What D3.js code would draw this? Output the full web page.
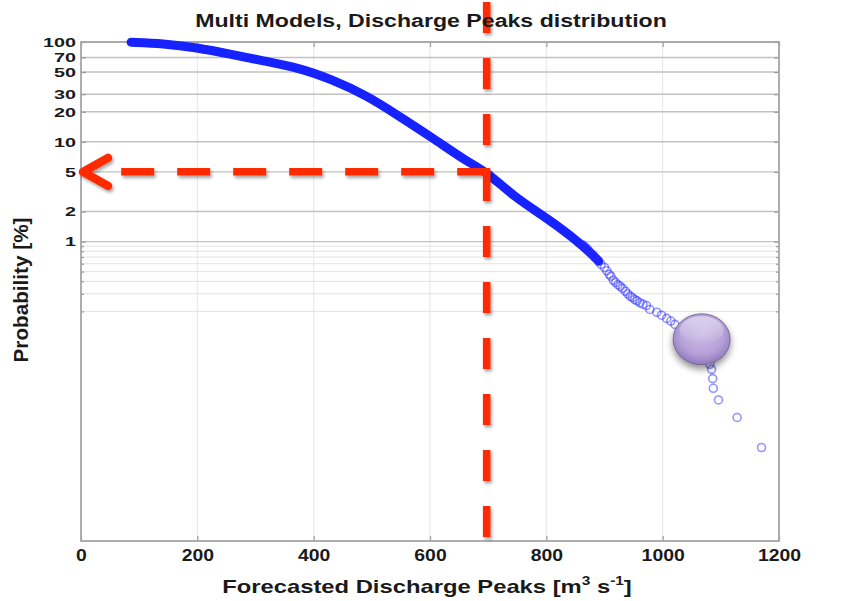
<!DOCTYPE html>
<html>
<head>
<meta charset="utf-8">
<script src="https://cdn.jsdelivr.net/npm/d3@7"></script>
<style>
  html, body { margin: 0; padding: 0; background: #fff; }
  svg { display: block; }
  text { font-family: "Liberation Sans", Arial, Helvetica, sans-serif; font-weight: bold; fill: #1a1a1a; }
</style>
</head>
<body>
<svg id="chart" width="848" height="601"></svg>
<script>
// ---------------- data ----------------
const xTickValues = [0, 200, 400, 600, 800, 1000, 1200];
const yMajorTicks = [1, 2, 5, 10, 20, 30, 50, 70, 100];
const yMinorTicks = [0.2, 0.3, 0.4, 0.5, 0.6, 0.7, 0.8, 0.9];

// dense part of the sorted ensemble (appears as a solid thick band)
const denseQ = [86, 141, 199, 256, 313, 373, 430, 492, 548, 605, 663, 700, 743, 801, 858, 890];
const denseP = [99.5, 96.6, 87.9, 75.9, 64.6, 55.5, 42.5, 29, 17.9, 10.9, 6.35, 4.9, 2.84, 1.73, 0.97, 0.64];

// sparse tail (individual open circles)
const tailQ = [862, 866, 870, 874, 880, 884, 890, 894, 900, 904, 908, 911, 915, 919, 923, 927, 931, 936, 940, 944,
               948, 952, 956, 961, 966, 972, 978, 990, 998, 1007, 1014, 1021,
               1038, 1050, 1062, 1072, 1078, 1081, 1084, 1086, 1087, 1096, 1128, 1170];
const tailP = [0.93, 0.89, 0.85, 0.80, 0.74, 0.69, 0.63, 0.59, 0.55, 0.51, 0.47, 0.45, 0.41, 0.39, 0.37, 0.357, 0.34, 0.318, 0.30, 0.284,
               0.275, 0.263, 0.255, 0.244, 0.236, 0.229, 0.209, 0.196, 0.183, 0.170, 0.160, 0.148,
               0.132, 0.118, 0.102, 0.085, 0.068, 0.059, 0.0525, 0.0424, 0.0339, 0.0259, 0.0173, 0.00865];

// annotation
const markQ = 700;   // vertical red dashed line
const markP = 5;     // horizontal red dashed line
const ballQ = 1067, ballP = 0.105;

const titleText = "Multi Models, Discharge Peaks distribution";
const yLabelText = "Probability [%]";

// ---------------- layout ----------------
const plot = { left: 81, right: 779, top: 42, bottom: 541 };

const svg = d3.select("#chart");
const x = d3.scaleLinear().domain([0, 1200]).range([plot.left, plot.right]);
const y = d3.scaleLog().domain([0.001, 100]).range([plot.bottom, plot.top]);

const defs = svg.append("defs");
const fRed = defs.append("filter").attr("id", "shRed").attr("x", "-20%").attr("y", "-20%").attr("width", "140%").attr("height", "140%");
fRed.append("feDropShadow").attr("dx", 1.5).attr("dy", 2.5).attr("stdDeviation", 1.6)
  .attr("flood-color", "#000").attr("flood-opacity", 0.35);
const fBall = defs.append("filter").attr("id", "shBall").attr("x", "-40%").attr("y", "-40%").attr("width", "180%").attr("height", "190%");
fBall.append("feDropShadow").attr("dx", 0).attr("dy", 4).attr("stdDeviation", 3.5)
  .attr("flood-color", "#000").attr("flood-opacity", 0.45);
const rg = defs.append("radialGradient").attr("id", "ballGrad")
  .attr("cx", "50%").attr("cy", "40%").attr("r", "60%");
rg.append("stop").attr("offset", "0%").attr("stop-color", "#c9b9e6");
rg.append("stop").attr("offset", "65%").attr("stop-color", "#b5a1d8");
rg.append("stop").attr("offset", "100%").attr("stop-color", "#9179bb");
const lg = defs.append("linearGradient").attr("id", "ballHi").attr("x1", 0).attr("y1", 0).attr("x2", 0).attr("y2", 1);
lg.append("stop").attr("offset", "0%").attr("stop-color", "#fff").attr("stop-opacity", 0.5);
lg.append("stop").attr("offset", "100%").attr("stop-color", "#fff").attr("stop-opacity", 0);

// ---------------- grid ----------------
const grid = svg.append("g");
grid.selectAll(".vg").data(xTickValues.slice(1, -1)).join("line")
  .attr("x1", d => x(d)).attr("x2", d => x(d))
  .attr("y1", plot.top).attr("y2", plot.bottom)
  .attr("stroke", "#e6e6e6").attr("stroke-width", 1);
grid.selectAll(".mg").data(yMinorTicks).join("line")
  .attr("x1", plot.left).attr("x2", plot.right)
  .attr("y1", d => y(d)).attr("y2", d => y(d))
  .attr("stroke", "#e2e2e2").attr("stroke-width", 1);
grid.selectAll(".hg").data(yMajorTicks).join("line")
  .attr("x1", plot.left).attr("x2", plot.right)
  .attr("y1", d => y(d)).attr("y2", d => y(d))
  .attr("stroke", "#c2c2c2").attr("stroke-width", 1.4);

// ---------------- axes ----------------
function styleAxis(g) {
  g.select(".domain").remove();
  g.selectAll(".tick line").attr("stroke", "#9a9a9a").attr("stroke-width", 1.2);
}
const gx = svg.append("g").attr("transform", `translate(0,${plot.bottom})`)
  .call(d3.axisBottom(x).tickValues(xTickValues).tickSizeInner(-5).tickSizeOuter(0).tickPadding(8).tickFormat(d3.format("d")));
styleAxis(gx);
gx.selectAll("text").attr("font-size", 17);

svg.append("g").attr("transform", `translate(0,${plot.top})`)
  .call(d3.axisTop(x).tickValues(xTickValues).tickSizeInner(-5).tickSizeOuter(0).tickFormat(""))
  .call(styleAxis);

const gy = svg.append("g").attr("transform", `translate(${plot.left},0)`)
  .call(d3.axisLeft(y).tickValues(yMajorTicks).tickSizeInner(-5).tickSizeOuter(0).tickPadding(5).tickFormat(d3.format("d")));
styleAxis(gy);
gy.selectAll("text").attr("font-size", 13.5);

svg.append("g").attr("transform", `translate(${plot.left},0)`)
  .call(d3.axisLeft(y).tickValues(yMinorTicks).tickSizeInner(-3).tickSizeOuter(0).tickFormat(""))
  .call(styleAxis);
svg.append("g").attr("transform", `translate(${plot.right},0)`)
  .call(d3.axisRight(y).tickValues(yMajorTicks).tickSizeInner(-5).tickSizeOuter(0).tickFormat(""))
  .call(styleAxis);
svg.append("g").attr("transform", `translate(${plot.right},0)`)
  .call(d3.axisRight(y).tickValues(yMinorTicks).tickSizeInner(-3).tickSizeOuter(0).tickFormat(""))
  .call(styleAxis);

// box
svg.append("rect").attr("x", plot.left).attr("y", plot.top)
  .attr("width", plot.right - plot.left).attr("height", plot.bottom - plot.top)
  .attr("fill", "none").attr("stroke", "#a6a6a6").attr("stroke-width", 1.8);

// stretch tick labels horizontally to match the reference glyph widths
function stretchTick(sel, perChar) {
  sel.each(function () {
    const t = d3.select(this);
    const w = this.getComputedTextLength();
    const n = t.text().length;
    const s = (n * perChar) / w;
    const x0 = +t.attr("x") || 0;
    const y0 = +t.attr("y") || 0;
    t.attr("x", 0).attr("y", 0).attr("transform", `translate(${x0},${y0}) scale(${s},1)`);
  });
}
stretchTick(gx.selectAll("text"), 10.8);
stretchTick(gy.selectAll("text"), 11);

// ---------------- data marks ----------------
const dense = denseQ.map((q, i) => [q, denseP[i]]);
const tail = tailQ.map((q, i) => [q, tailP[i]]);

svg.append("path").datum(dense)
  .attr("d", d3.line().x(d => x(d[0])).y(d => y(d[1])).curve(d3.curveBasis))
  .attr("fill", "none").attr("stroke", "#1622ff").attr("stroke-width", 9)
  .attr("stroke-linecap", "round").attr("stroke-linejoin", "round");

svg.append("g").selectAll("circle").data(tail).join("circle")
  .attr("cx", d => x(d[0])).attr("cy", d => y(d[1])).attr("r", 4)
  .attr("fill", "none").attr("stroke", "#2a2aff").attr("stroke-width", 1.6)
  .attr("stroke-opacity", 0.5);

// ---------------- annotations ----------------
const red = svg.append("g").attr("filter", "url(#shRed)");
const rc = "#ff2a00";
red.append("line")
  .attr("x1", x(markQ) + 2).attr("x2", x(0) + 40)
  .attr("y1", y(markP)).attr("y2", y(markP))
  .attr("stroke", rc).attr("stroke-width", 7.5).attr("stroke-dasharray", "33,23");
red.append("line")
  .attr("x1", x(markQ) - 1.5).attr("x2", x(markQ) - 1.5)
  .attr("y1", 2).attr("y2", plot.bottom - 4)
  .attr("stroke", rc).attr("stroke-width", 7.5).attr("stroke-dasharray", "31,25");
red.append("polyline")
  .attr("points", [[x(0) + 27, y(markP) - 14], [x(0) + 2, y(markP)], [x(0) + 27, y(markP) + 14]].map(p => p.join(",")).join(" "))
  .attr("fill", "none").attr("stroke", rc).attr("stroke-width", 8.5)
  .attr("stroke-linecap", "round").attr("stroke-linejoin", "round");

// purple ball
const ball = svg.append("g").attr("transform", `translate(${x(ballQ)},${y(ballP)})`);
ball.append("ellipse").attr("rx", 28.5).attr("ry", 25.5)
  .attr("fill", "url(#ballGrad)").attr("stroke", "#6a5a8c").attr("stroke-width", 0.8)
  .attr("filter", "url(#shBall)");
ball.append("ellipse").attr("cy", -9).attr("rx", 22).attr("ry", 14)
  .attr("fill", "url(#ballHi)");

// ---------------- titles ----------------
function fitText(t, target) {
  const w = t.node().getComputedTextLength();
  return target / w;
}
const title = svg.append("text").attr("text-anchor", "middle").attr("font-size", 18.5).text(titleText);
const sT = fitText(title, 472);
title.attr("transform", `translate(431,26.5) scale(${sT},1)`);

const xl = svg.append("text").attr("text-anchor", "middle").attr("font-size", 18.5);
xl.append("tspan").text("Forecasted Discharge Peaks [m");
xl.append("tspan").attr("font-size", 12).attr("dy", -8).text("3");
xl.append("tspan").attr("dy", 8).text(" s");
xl.append("tspan").attr("font-size", 12).attr("dy", -8).text("-1");
xl.append("tspan").attr("dy", 8).text("]");
const wXl = xl.node().getBBox().width;
xl.attr("transform", `translate(427,593) scale(${410 / wXl},1)`);

const yl = svg.append("text").attr("text-anchor", "middle").attr("font-size", 20).text(yLabelText);
const sY = fitText(yl, 145);
yl.attr("transform", `translate(28,290) rotate(-90) scale(${sY},1)`);
</script>
</body>
</html>
